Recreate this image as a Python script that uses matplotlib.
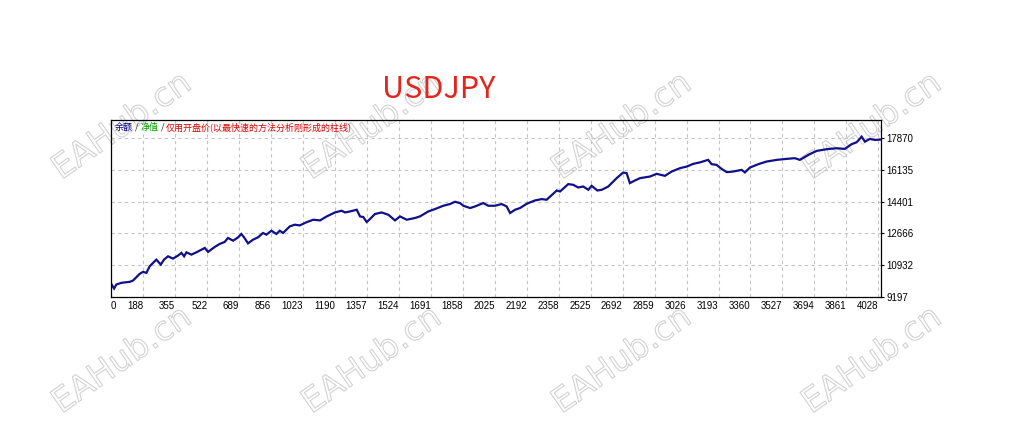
import matplotlib
matplotlib.use("Agg")
import matplotlib.pyplot as plt
import matplotlib.patheffects as pe

# equity curve (trade number, balance)
trades = [20, 35, 47, 73, 117, 134, 169, 186, 204, 221, 239, 256, 279, 296, 317,
          343, 369, 387, 401, 413, 439, 465, 509, 526, 561, 587, 613, 630, 657, 683,
          700, 714, 735, 761, 787, 813, 831, 857, 883, 901, 918, 953, 979, 1005, 1041,
          1076, 1111, 1146, 1189, 1224, 1242, 1268, 1303, 1320, 1337, 1355, 1372, 1398, 1433, 1468,
          1503, 1529, 1564, 1607, 1633, 1677, 1712, 1755, 1790, 1816, 1842, 1860, 1895, 1921, 1964,
          1990, 2025, 2060, 2086, 2104, 2130, 2156, 2191, 2234, 2269, 2295, 2348, 2365, 2408, 2434,
          2460, 2486, 2513, 2530, 2560, 2583, 2617, 2661, 2695, 2713, 2730, 2756, 2783, 2835, 2870,
          2913, 2948, 2992, 3027, 3061, 3096, 3122, 3139, 3157, 3183, 3209, 3236, 3270, 3314, 3331,
          3357, 3401, 3444, 3497, 3549, 3592, 3618, 3662, 3706, 3758, 3810, 3853, 3888, 3915, 3941,
          3958, 3984, 4010, 4036]
balance = [9915, 9659, 9877, 9969, 10024, 10094, 10459, 10567, 10513, 10872, 11057, 11236, 10964, 11236, 11416,
           11291, 11454, 11601, 11416, 11633, 11508, 11633, 11872, 11655, 11927, 12090, 12199, 12416, 12269, 12449,
           12634, 12449, 12123, 12324, 12449, 12688, 12596, 12813, 12634, 12813, 12688, 13047, 13140, 13101, 13276,
           13411, 13373, 13591, 13808, 13901, 13808, 13863, 13955, 13591, 13558, 13286, 13450, 13721, 13808, 13683,
           13373, 13591, 13411, 13504, 13591, 13863, 13993, 14173, 14265, 14390, 14320, 14173, 14048, 14135, 14320,
           14173, 14173, 14265, 14135, 13776, 13955, 14048, 14282, 14461, 14537, 14499, 15005, 14950, 15353, 15315,
           15168, 15222, 15043, 15260, 15005, 15043, 15222, 15679, 15984, 15951, 15407, 15549, 15679, 15766, 15913,
           15804, 16038, 16223, 16310, 16457, 16538, 16620, 16674, 16440, 16402, 16185, 16005, 16038, 16130, 15990,
           16255, 16440, 16582, 16674, 16729, 16767, 16674, 16946, 17164, 17256, 17310, 17272, 17528, 17637, 17941,
           17669, 17816, 17762, 17778]

x_ticks = [188, 355, 522, 689, 856, 1023, 1190, 1357, 1524, 1691, 1858, 2025, 2192,
           2358, 2525, 2692, 2859, 3026, 3193, 3360, 3527, 3694, 3861, 4028]
y_ticks = [9197, 10932, 12666, 14401, 16135, 17870]

legend_parts = [("余额", "#000080"), (" / ", "#202020"), ("净值", "#00a000"),
                (" / ", "#202020"), ("仅用开盘价(以最快速的方法分析刚形成的柱线)", "#e00000")]

fig = plt.figure(figsize=(10.13, 4.26), dpi=100)
fig.patch.set_facecolor("white")
ax = fig.add_axes([111 / 1013, 1 - 297 / 426, 770 / 1013, 177.3 / 426])
ax.patch.set_alpha(0)

ax.plot(trades, balance, color="#10108a", lw=1.6, solid_joinstyle="miter")

x_min, x_max = 19, 4042
ax.set_xlim(x_min, x_max)
ax.set_ylim(y_ticks[0], 18865)

ax.set_xticks([x_min] + x_ticks)
ax.set_xticklabels(["0"] + [str(v) for v in x_ticks])
for i, lab in enumerate(ax.get_xticklabels()):
    lab.set_ha("left" if i == 0 else "right")
ax.set_yticks(y_ticks)
ax.set_yticklabels([str(v) for v in y_ticks])
ax.yaxis.tick_right()

ax.tick_params(axis="x", length=0, pad=3, labelsize=7, labelcolor="#000000")
ax.tick_params(axis="y", length=2, pad=2, labelsize=7, labelcolor="#000000")
for lab in ax.get_xticklabels() + ax.get_yticklabels():
    lab.set_family("Liberation Sans")

ax.grid(True, color="#c4c4c4", linestyle=(0, (3, 3)), lw=0.8)
for s in ax.spines.values():
    s.set_color("black")
    s.set_linewidth(0.9)

# legend line at top left, pieces chained one after another
prev = ax.text(0.0052, 0.957, legend_parts[0][0], transform=ax.transAxes,
               color=legend_parts[0][1], fontsize=6.5, ha="left", va="center",
               family=["Noto Sans CJK SC", "DejaVu Sans"])
for txt, col in legend_parts[1:]:
    prev = ax.annotate(txt, xy=(1, 0.5), xycoords=prev, ha="left", va="center",
                       color=col, fontsize=6.5, family=["Noto Sans CJK SC", "DejaVu Sans"])

fig.text(439 / 1013, 1 - 89 / 426, "USDJPY", color="#e3261c", fontsize=22,
         ha="center", va="center", family="Noto Sans CJK SC")

# watermarks, drawn underneath the chart
for cx in [122, 372, 622, 872]:
    for cy in [126, 360]:
        fig.text(cx / 1013, 1 - cy / 426, "EAHub.cn", rotation=35, fontsize=24,
                 ha="center", va="center", color="none", family="DejaVu Sans",
                 zorder=-1,
                 path_effects=[pe.Stroke(linewidth=0.8, foreground="#d2d2d2")])

fig.savefig("out.png", dpi=100, facecolor="white")
